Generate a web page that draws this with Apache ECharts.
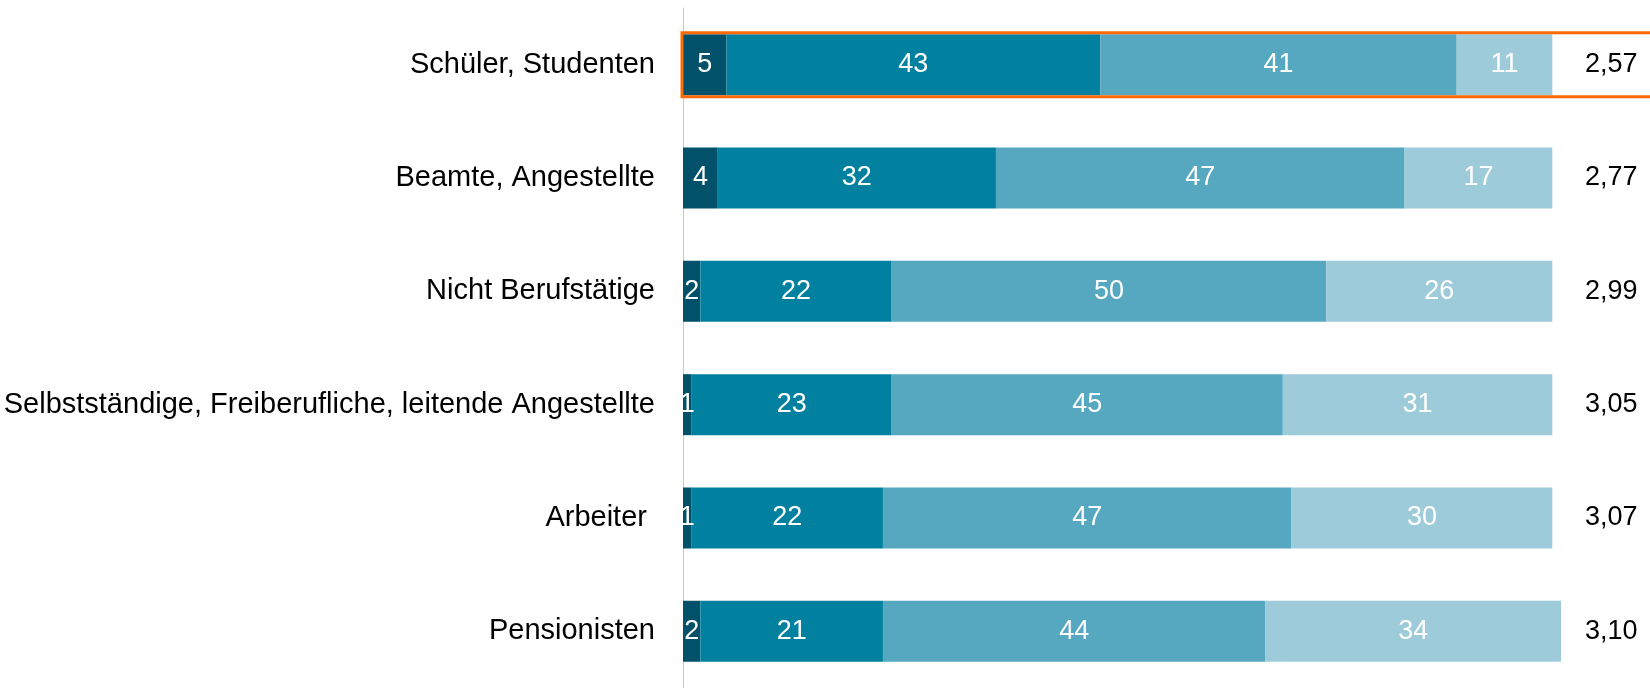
<!DOCTYPE html>
<html>
<head>
<meta charset="utf-8">
<script src="https://cdn.jsdelivr.net/npm/echarts@6/dist/echarts.min.js"></script>
<style>
html, body { margin: 0; padding: 0; background: #fff; }
#chart { width: 1650px; height: 688px; }
</style>
</head>
<body>
<div id="chart"></div>
<script>
// Kategorien (von oben nach unten)
const categories = [
    'Schüler, Studenten',
    'Beamte, Angestellte',
    'Nicht Berufstätige',
    'Selbstständige, Freiberufliche, leitende Angestellte',
    'Arbeiter ',
    'Pensionisten'
];
const seriesNames = ['1', '2', '3', '4'];
const values1 = [5, 4, 2, 1, 1, 2];
const values2 = [43, 32, 22, 23, 22, 21];
const values3 = [41, 47, 50, 45, 47, 44];
const values4 = [11, 17, 26, 31, 30, 34];
// Mittelwerte rechts
const means = ['2,57', '2,77', '2,99', '3,05', '3,07', '3,10'];

const colors = ['#01516a', '#0180a0', '#56a7c0', '#9dcbd9'];
const FONT = 'Liberation Sans, Arial, sans-serif';

const makeSeries = (name, data, i) => ({
    name,
    type: 'bar',
    stack: 'total',
    barWidth: 61,
    data,
    itemStyle: { color: colors[i] },
    label: {
        show: true,
        position: 'inside',
        color: '#fff',
        fontSize: 27,
        fontFamily: FONT
    },
    emphasis: { disabled: true }
});

const chart = echarts.init(document.getElementById('chart'), null, { renderer: 'canvas' });
chart.setOption({
    animation: false,
    grid: {
        left: 683,
        top: 8,
        width: 878,
        height: 682
    },
    xAxis: {
        type: 'value',
        min: 0,
        max: 101,
        show: false
    },
    yAxis: [{
        type: 'category',
        data: categories,
        inverse: true,
        axisLine: { show: true, lineStyle: { color: '#c8c8c8', width: 1 } },
        axisTick: { show: false },
        axisLabel: {
            margin: 28,
            color: '#000',
            fontSize: 29,
            fontFamily: FONT
        }
    }, {
        type: 'category',
        data: means,
        inverse: true,
        position: 'right',
        axisLine: { show: false },
        axisTick: { show: false },
        axisLabel: {
            margin: 24,
            color: '#000',
            fontSize: 27,
            fontFamily: FONT
        }
    }],
    series: [
        makeSeries(seriesNames[0], values1, 0),
        makeSeries(seriesNames[1], values2, 1),
        makeSeries(seriesNames[2], values3, 2),
        makeSeries(seriesNames[3], values4, 3)
    ]
});

// Markierung der ersten Zeile
const p0 = chart.convertToPixel({ gridIndex: 0 }, [0, 0]);
chart.setOption({
    graphic: [{
        type: 'rect',
        shape: { x: p0[0] - 1, y: p0[1] - 32, width: 1650 - p0[0] + 4, height: 64 },
        style: { fill: 'none', stroke: '#ff6a00', lineWidth: 3 },
        z: 10
    }]
});
</script>
</body>
</html>
